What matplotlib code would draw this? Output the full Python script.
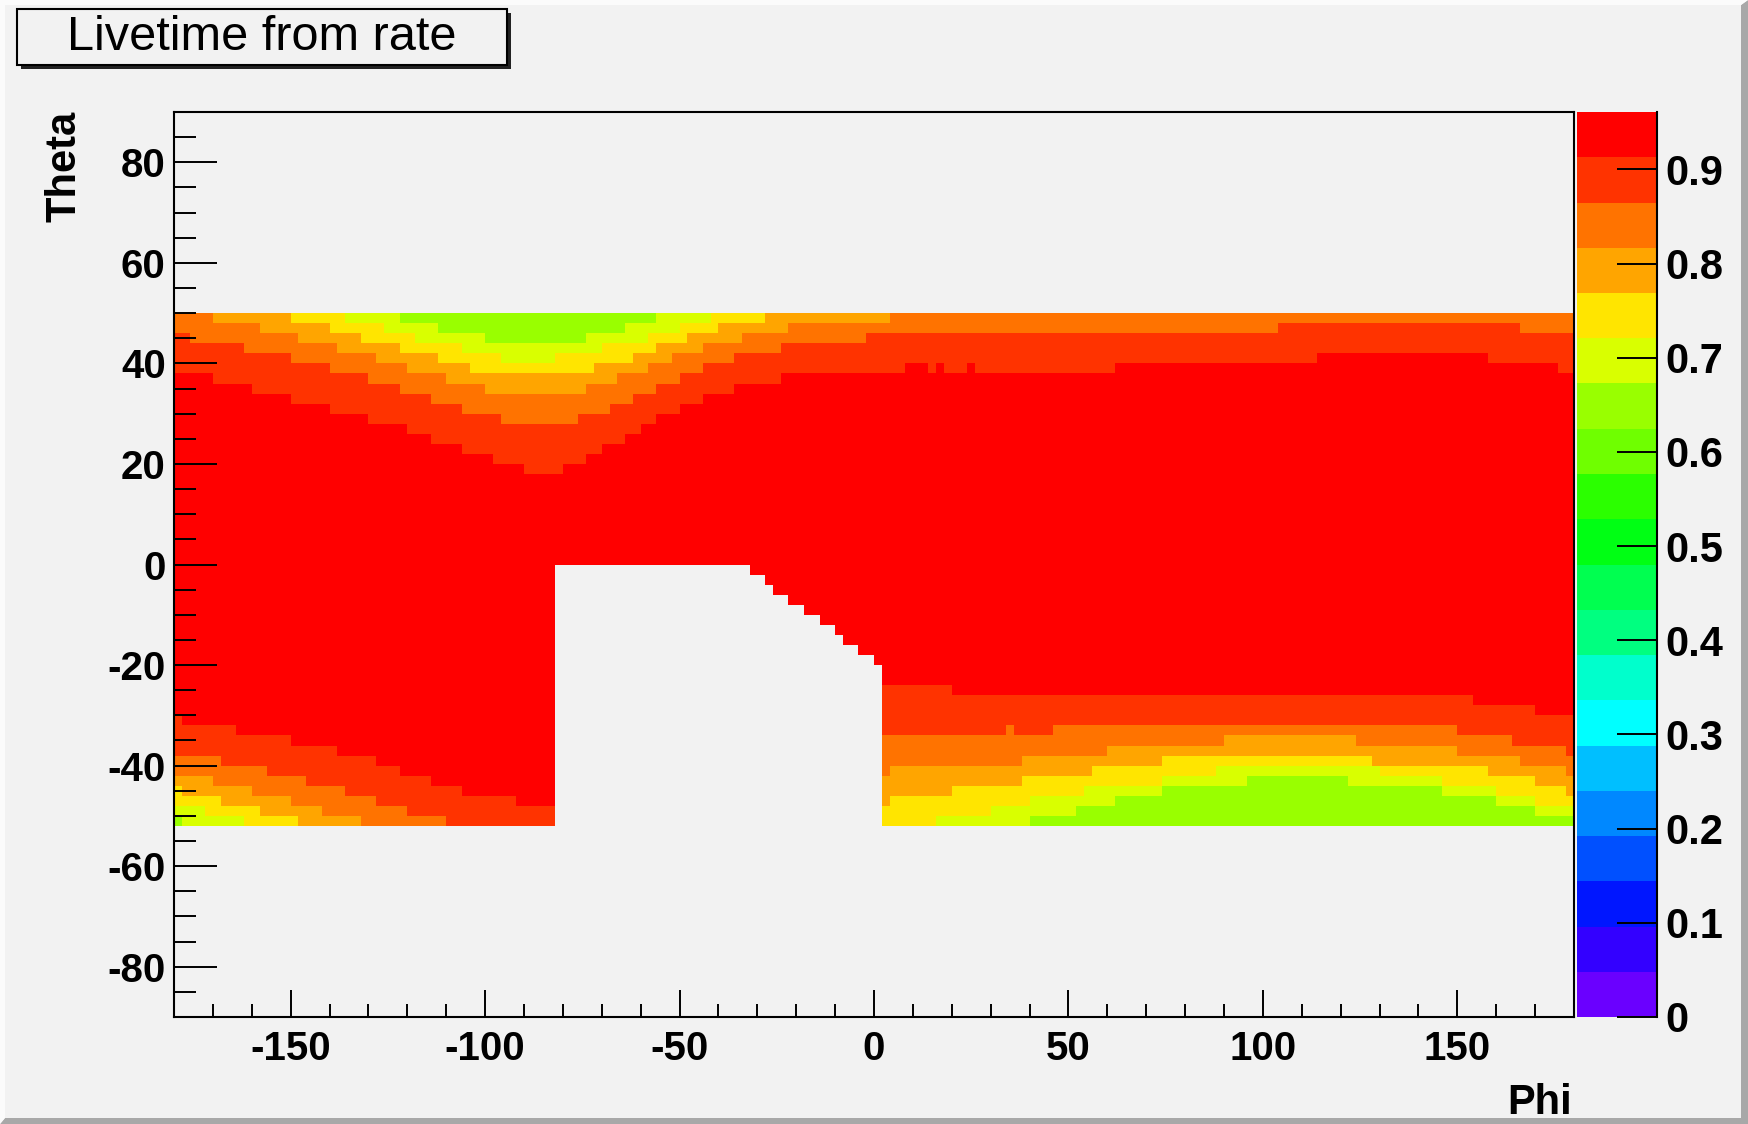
import numpy as np
import matplotlib
matplotlib.use('Agg')
import matplotlib.pyplot as plt
from matplotlib.colors import ListedColormap, BoundaryNorm
from matplotlib.patches import Rectangle, Polygon
from matplotlib.ticker import MultipleLocator, FuncFormatter

plt.rcParams['font.family'] = ['Liberation Sans', 'DejaVu Sans']
plt.rcParams['font.weight'] = 'bold'
plt.rcParams['axes.unicode_minus'] = False

# palette (20 contour levels, bottom -> top) and maximum of the z axis
palette = ['#6a00ff', '#3300ff', '#0016ff', '#0050ff', '#0088ff', '#00bfff',
           '#00ffff', '#00ffcc', '#00ff80', '#00ff50', '#00ff14', '#2bff00',
           '#6fff00', '#99ff00', '#d9ff00', '#ffe500', '#ffa500', '#ff7300',
           '#ff3300', '#ff0000']
zmax = 0.961
cbar_ticks = [0, 0.1, 0.2, 0.3, 0.4, 0.5, 0.6, 0.7, 0.8, 0.9]

# binning (degrees)
phi_edges = np.arange(-180, 181, 2)
theta_edges = np.arange(-90, 91, 2)
theta_min, theta_max = -52, 50

# upper band: theta where each colour level starts
# levels: 19 = ff3300, 18 = ff7300, 17 = ffa500, 16 = ffe500, 15 = d9ff00, 14 = 99ff00
top_r1_phi = [-180, -170, -160, -150, -140, -130, -120, -114, -106, -98, -90, -80, -74, -70,
              -64, -60, -56, -50, -44, -36, -24, 8, 14, 16, 18, 24, 26, 62, 114, 158, 176]
top_r1_th = [38, 36, 34, 32, 30, 28, 26, 24, 22, 20, 18, 20, 22, 24,
             26, 28, 30, 32, 34, 36, 38, 40, 38, 40, 38, 40, 38, 40, 42, 40, 38]
top_o_phi = [-180, -176, -162, -150, -140, -130, -122, -114, -106, -96, -76, -68, -62, -56,
             -50, -44, -36, -24, -2, 104, 166]
top_o_th = [46, 44, 42, 40, 38, 36, 34, 32, 30, 28, 30, 32, 34, 36,
            38, 40, 42, 44, 46, 48, 46]
top_oy_phi = [-180, -170, -158, -148, -138, -128, -120, -110, -100, -74, -66, -58, -52, -44,
              -34, -22, 4]
top_oy_th = [50, 48, 46, 44, 42, 40, 38, 36, 34, 36, 38, 40, 42, 44, 46, 48, 50]
top_y_phi = [-180, -150, -140, -132, -122, -112, -104, -72, -62, -56, -48, -40, -28]
top_y_th = [50, 48, 46, 44, 42, 40, 38, 40, 42, 44, 46, 48, 50]
top_yg_phi = [-180, -136, -126, -118, -106, -96, -82, -70, -58, -50, -42]
top_yg_th = [50, 48, 46, 44, 42, 40, 42, 44, 46, 48, 50]
top_g_phi = [-180, -122, -112, -100, -74, -64, -56]
top_g_th = [50, 48, 46, 44, 46, 48, 50]

# lower band: theta where each colour level ends (cells below get the lower level)
bot_r1_phi = [-180, -178, -164, -150, -138, -128, -122, -114, -106, -92, -82, 20, 154, 170]
bot_r1_th = [-30, -32, -34, -36, -38, -40, -42, -44, -46, -48, -24, -26, -28, -30]
bot_o_phi = [-180, -168, -156, -146, -136, -128, -120, -110, -82, 34, 36, 46, 150, 164, 178]
bot_o_th = [-38, -40, -42, -44, -46, -48, -50, -52, -34, -32, -34, -32, -34, -36, -38]
bot_oy_phi = [-180, -170, -160, -150, -142, -132, -82, 4, 38, 60, 90, 124, 150, 166, 178]
bot_oy_th = [-42, -44, -46, -48, -50, -52, -42, -40, -38, -36, -34, -36, -38, -40, -42]
bot_y_phi = [-180, -178, -168, -158, -148, -82, 4, 20, 38, 56, 74, 128, 158, 170, 178]
bot_y_th = [-44, -46, -48, -50, -52, -48, -46, -44, -42, -40, -38, -40, -42, -44, -46]
bot_yg_phi = [-180, -172, -162, -82, 16, 30, 40, 54, 74, 88, 130, 146, 160, 170]
bot_yg_th = [-48, -50, -52, -52, -50, -48, -46, -44, -42, -40, -42, -44, -46, -48]
bot_g_phi = [-180, -178, -82, 40, 52, 62, 74, 96, 122, 146, 160, 170]
bot_g_th = [-50, -52, -52, -50, -48, -46, -44, -42, -44, -46, -48, -50]

# empty region (no entries)
hole_phi_lo, hole_phi_hi = -82, 2
hole_top_phi = [-82, -32, -28, -26, -22, -18, -14, -10, -8, -4, 0]
hole_top_th = [0, -2, -4, -6, -8, -10, -12, -14, -16, -18, -20]


def step(starts, vals, x):
    idx = np.searchsorted(starts, x, side='right') - 1
    return np.asarray(vals)[idx]


phi_c = 0.5 * (phi_edges[:-1] + phi_edges[1:])
theta_c = 0.5 * (theta_edges[:-1] + theta_edges[1:])
P, T = np.meshgrid(phi_c, theta_c)

level = np.full(P.shape, 20)
for ph, th in [(top_r1_phi, top_r1_th), (top_o_phi, top_o_th), (top_oy_phi, top_oy_th),
               (top_y_phi, top_y_th), (top_yg_phi, top_yg_th), (top_g_phi, top_g_th)]:
    level -= (T > step(ph, th, P)).astype(int)
for ph, th in [(bot_r1_phi, bot_r1_th), (bot_o_phi, bot_o_th), (bot_oy_phi, bot_oy_th),
               (bot_y_phi, bot_y_th), (bot_yg_phi, bot_yg_th), (bot_g_phi, bot_g_th)]:
    level -= (T < step(ph, th, P)).astype(int)

Z = (level - 0.5) * zmax / 20.0
empty = (T > theta_max) | (T < theta_min)
empty |= (P > hole_phi_lo) & (P < hole_phi_hi) & (T < step(hole_top_phi, hole_top_th, P))
Z = np.ma.masked_where(empty, Z)

W, H = 1748, 1124
bg = '#f2f2f2'
fig = plt.figure(figsize=(W / 100, H / 100), dpi=100, facecolor=bg)

# canvas bevel
fig.add_artist(Polygon([(0, 0), (1, 0), (1, 1), (1 - 7 / W, 1 - 5 / H), (1 - 7 / W, 6 / H), (5 / W, 6 / H)],
                       closed=True, transform=fig.transFigure, facecolor='#a8a8a8', edgecolor='none'))
fig.add_artist(Polygon([(0, 0), (0, 1), (1, 1), (1 - 7 / W, 1 - 5 / H), (5 / W, 1 - 5 / H), (5 / W, 6 / H)],
                       closed=True, transform=fig.transFigure, facecolor='#fbfbfb', edgecolor='none'))

ax = fig.add_axes([174 / W, 1 - 1017 / H, 1400 / W, 905 / H])
ax.set_facecolor(bg)
cmap = ListedColormap(palette)
norm = BoundaryNorm(np.linspace(0, zmax, 21), 20)
mesh = ax.pcolormesh(phi_edges, theta_edges, Z, cmap=cmap, norm=norm)

ax.set_xlim(-180, 180)
ax.set_ylim(-90, 90)
ax.xaxis.set_major_locator(MultipleLocator(50))
ax.xaxis.set_minor_locator(MultipleLocator(10))
ax.yaxis.set_major_locator(MultipleLocator(20))
ax.yaxis.set_minor_locator(MultipleLocator(5))
ax.tick_params(axis='y', which='major', direction='in', length=31, width=1.4,
               labelsize=29, pad=6, left=True, right=False)
ax.tick_params(axis='y', which='minor', direction='in', length=15.5, width=1.4, left=True, right=False)
ax.tick_params(axis='x', which='major', direction='in', length=19.5, width=1.4,
               labelsize=29, pad=9, bottom=True, top=False)
ax.tick_params(axis='x', which='minor', direction='in', length=9.7, width=1.4, bottom=True, top=False)
for s in ax.spines.values():
    s.set_linewidth(1.5)

fig.text(64 / W, 1 - 111 / H, 'Theta', rotation=90, ha='center', va='top', fontsize=30)
fig.text(1572 / W, 1 - 1103 / H, 'Phi', ha='right', va='center', fontsize=30)

# palette axis
cax = fig.add_axes([1577 / W, 1 - 1017 / H, 80 / W, 905 / H])
cb = fig.colorbar(mesh, cax=cax, ticks=cbar_ticks)
cb.outline.set_visible(False)
cax.plot([1, 1], [0, 1], transform=cax.transAxes, color='black', lw=1.5, clip_on=False)
cax.yaxis.set_major_formatter(FuncFormatter(lambda v, _: '0' if abs(v) < 1e-9 else f'{v:.1f}'))
cax.tick_params(axis='y', which='major', direction='in', length=29, width=1.4,
                labelsize=30, pad=6, right=True, left=False)
cax.minorticks_off()

# title box with shadow
fig.add_artist(Rectangle((21 / W, 1 - 69 / H), 490 / W, 56 / H, transform=fig.transFigure,
                         facecolor='#222222', edgecolor='none'))
fig.add_artist(Rectangle((17 / W, 1 - 65 / H), 490 / W, 56 / H, transform=fig.transFigure,
                         facecolor=bg, edgecolor='black', lw=1.5))
fig.text(262 / W, 1 - 37 / H, 'Livetime from rate', ha='center', va='center',
         fontsize=35, fontweight='normal')

fig.savefig('out.png', dpi=100, facecolor=bg)
